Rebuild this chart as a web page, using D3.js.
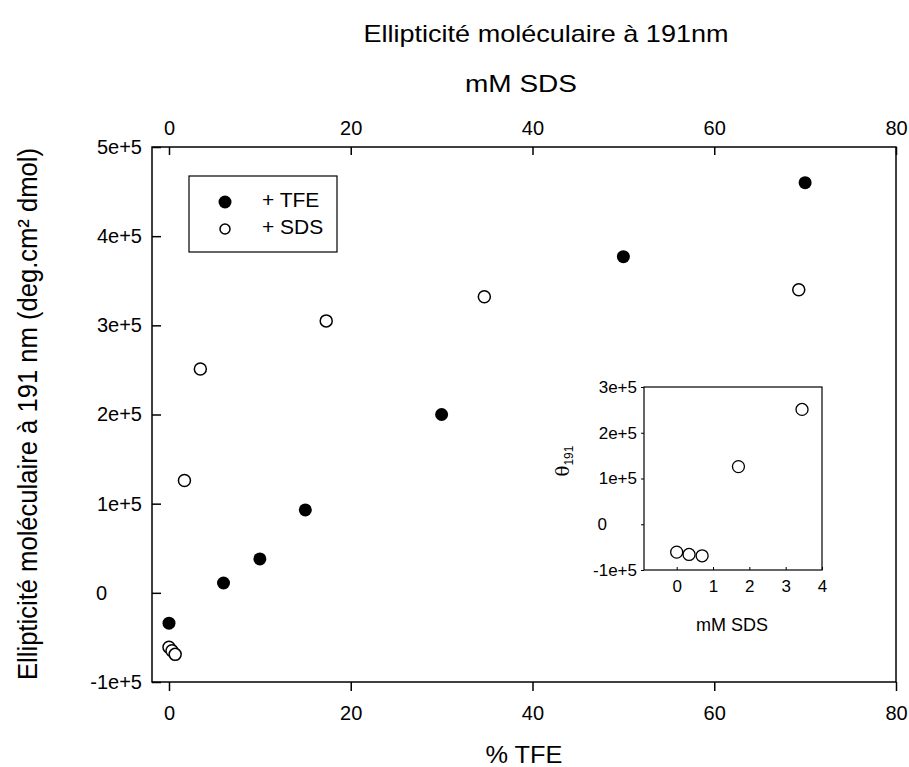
<!DOCTYPE html>
<html>
<head>
<meta charset="utf-8">
<script src="https://cdn.jsdelivr.net/npm/d3@7"></script>
<style>
  body { margin: 0; background: #fff; }
  text { font-family: Arial, "Liberation Sans", sans-serif; fill: #000; }
</style>
</head>
<body>
<div id="chart"></div>
<script>
// TFE series: % TFE (bottom axis) vs ellipticity
const tfeX = [0, 6, 10, 15, 30, 50, 70];
const tfeY = [-34000, 11000, 38000, 93000, 200000, 377000, 460000];
// SDS series: mM SDS (top axis) vs ellipticity
const sdsX = [0, 0.33, 0.68, 1.7, 3.45, 17.3, 34.7, 69.3];
const sdsY = [-61000, -65000, -69000, 126000, 251000, 305000, 332000, 340000];
// inset points (low SDS range)
const insetX = [0, 0.34, 0.7, 1.7, 3.45];
const insetY = [-61000, -66000, -69000, 126000, 251000];

const mainYTicks = [-1e5, 0, 1e5, 2e5, 3e5, 4e5, 5e5];
const mainXTicks = [0, 20, 40, 60, 80];
const insetYTicks = [-1e5, 0, 1e5, 2e5, 3e5];
const insetXTicks = [0, 1, 2, 3, 4];

// SigmaPlot style "1e+5" labels
function sci(d) {
  if (d === 0) return "0";
  const e = Math.floor(Math.log10(Math.abs(d)));
  return Math.round(d / Math.pow(10, e)) + "e+" + e;
}

const W = 909, H = 767;
const svg = d3.select("#chart").append("svg").attr("width", W).attr("height", H);

const plot = { left: 152, right: 896, top: 147, bottom: 682 };

const x = d3.scaleLinear().domain([-1.87, 80]).range([plot.left, plot.right]);
const y = d3.scaleLinear().domain([-1e5, 5e5]).range([plot.bottom, plot.top]);

// frame
svg.append("rect")
  .attr("x", plot.left).attr("y", plot.top)
  .attr("width", plot.right - plot.left).attr("height", plot.bottom - plot.top)
  .attr("fill", "none").attr("stroke", "#000").attr("stroke-width", 1.5);

// bottom axis (ticks outward)
const xb = svg.append("g").attr("transform", `translate(0,${plot.bottom})`)
  .call(d3.axisBottom(x).tickValues(mainXTicks).tickSize(9).tickPadding(15));
// top axis (ticks inward)
const xt = svg.append("g").attr("transform", `translate(0,${plot.top})`)
  .call(d3.axisTop(x).tickValues(mainXTicks).tickSize(-8).tickPadding(12));
// left axis (ticks inward)
const yl = svg.append("g").attr("transform", `translate(${plot.left},0)`)
  .call(d3.axisLeft(y).tickValues(mainYTicks).tickFormat(sci).tickSize(-9).tickPadding(10));

[xb, xt, yl].forEach((g) => {
  g.select(".domain").remove();
  g.selectAll(".tick line").attr("stroke", "#000").attr("stroke-width", 1.5);
  g.selectAll(".tick text").style("font-size", "20px").attr("fill", "#000");
});
yl.selectAll(".tick text").filter((d) => d === 0).attr("x", -45);

// points
svg.append("g").selectAll("circle").data(sdsX).join("circle")
  .attr("cx", (d) => x(d)).attr("cy", (d, i) => y(sdsY[i])).attr("r", 6)
  .attr("fill", "#fff").attr("stroke", "#000").attr("stroke-width", 1.5);
svg.append("g").selectAll("circle").data(tfeX).join("circle")
  .attr("cx", (d) => x(d)).attr("cy", (d, i) => y(tfeY[i])).attr("r", 6.5)
  .attr("fill", "#000");

// legend
const lg = svg.append("g");
lg.append("rect").attr("x", 189).attr("y", 176).attr("width", 148).attr("height", 76)
  .attr("fill", "#fff").attr("stroke", "#000").attr("stroke-width", 1.2);
lg.append("circle").attr("cx", 225).attr("cy", 202).attr("r", 6.5).attr("fill", "#000");
lg.append("circle").attr("cx", 225).attr("cy", 229).attr("r", 5).attr("fill", "#fff")
  .attr("stroke", "#000").attr("stroke-width", 1.5);
lg.append("text").attr("x", 262).attr("y", 207).style("font-size", "21px").text("+ TFE");
lg.append("text").attr("x", 262).attr("y", 234).style("font-size", "21px").text("+ SDS");

// titles
svg.append("text").attr("x", 546).attr("y", 42).attr("text-anchor", "middle")
  .style("font-size", "24px").attr("textLength", 365).attr("lengthAdjust", "spacingAndGlyphs")
  .text("Ellipticité moléculaire à 191nm");
svg.append("text").attr("x", 521).attr("y", 92).attr("text-anchor", "middle")
  .style("font-size", "23px").attr("textLength", 112).attr("lengthAdjust", "spacingAndGlyphs")
  .text("mM SDS");
svg.append("text").attr("x", 524).attr("y", 763).attr("text-anchor", "middle")
  .style("font-size", "24px").attr("textLength", 77).attr("lengthAdjust", "spacingAndGlyphs")
  .text("% TFE");
svg.append("text").attr("transform", "translate(37,414) rotate(-90)").attr("text-anchor", "middle")
  .style("font-size", "27px").attr("textLength", 532).attr("lengthAdjust", "spacingAndGlyphs")
  .text("Ellipticité moléculaire à 191 nm (deg.cm² dmol)");

// inset
const ins = { left: 644, right: 822, top: 387, bottom: 570 };
const ix = d3.scaleLinear().domain([-0.9, 4]).range([ins.left, ins.right]);
const iy = d3.scaleLinear().domain([-1e5, 3e5]).range([ins.bottom, ins.top]);

svg.append("rect")
  .attr("x", ins.left).attr("y", ins.top)
  .attr("width", ins.right - ins.left).attr("height", ins.bottom - ins.top)
  .attr("fill", "#fff").attr("stroke", "#000").attr("stroke-width", 1.2);

const ixa = svg.append("g").attr("transform", `translate(0,${ins.bottom})`)
  .call(d3.axisBottom(ix).tickValues(insetXTicks).tickFormat(d3.format("d")).tickSize(-3).tickPadding(10));
const iya = svg.append("g").attr("transform", `translate(${ins.left},0)`)
  .call(d3.axisLeft(iy).tickValues(insetYTicks).tickFormat(sci).tickSize(3).tickPadding(4));
[ixa, iya].forEach((g) => {
  g.select(".domain").remove();
  g.selectAll(".tick line").attr("stroke", "#000").attr("stroke-width", 1);
  g.selectAll(".tick text").style("font-size", "17px").attr("fill", "#000");
});
iya.selectAll(".tick text").filter((d) => d === 0).attr("x", -37);

svg.append("g").selectAll("circle").data(insetX).join("circle")
  .attr("cx", (d) => ix(d)).attr("cy", (d, i) => iy(insetY[i])).attr("r", 6)
  .attr("fill", "#fff").attr("stroke", "#000").attr("stroke-width", 1.3);

svg.append("text").attr("x", 732).attr("y", 631).attr("text-anchor", "middle")
  .style("font-size", "18px").text("mM SDS");
const th = svg.append("text").attr("transform", "translate(569,461) rotate(-90)")
  .attr("text-anchor", "middle").style("font-size", "18px");
th.append("tspan").style("font-family", "'DejaVu Serif', serif").text("θ");
th.append("tspan").attr("dy", 4).style("font-size", "12px").text("191");
</script>
</body>
</html>
